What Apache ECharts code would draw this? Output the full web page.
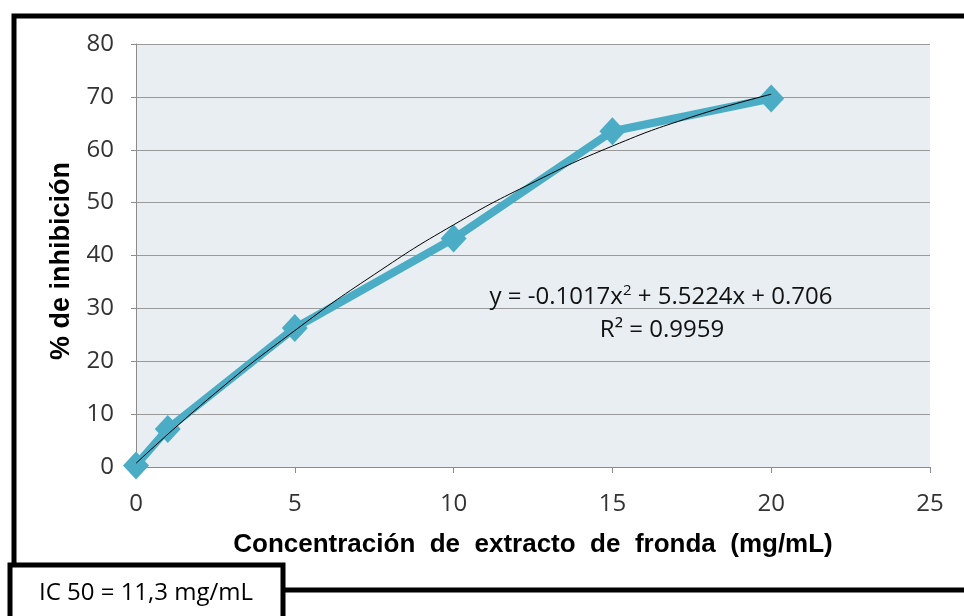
<!DOCTYPE html>
<html>
<head>
<meta charset="utf-8">
<script src="https://cdn.jsdelivr.net/npm/echarts@6/dist/echarts.min.js"></script>
<style>
  html, body { margin: 0; padding: 0; background: #fff; }
  #chart { width: 964px; height: 616px; }
</style>
</head>
<body>
<div id="chart"></div>
<script>
// datos medidos (concentración mg/mL vs % inhibición)
var concentracion = [0, 1, 5, 10, 15, 20];
var inhibicion = [0.3, 7.2, 26.3, 43.2, 63.5, 69.7];

// puntos de la línea de tendencia
var tendenciaX = [0, 2.5, 5, 7.5, 10, 12.5, 15, 17.5, 20];
var tendenciaY = [0.7, 14.0, 25.8, 36.4, 45.8, 53.8, 60.7, 66.2, 70.5];

var ecuacion = 'y = -0.1017x{sup|2} + 5.5224x + 0.706';
var r2 = 'R² = 0.9959';
var ic50 = 'IC 50 = 11,3 mg/mL';

var chart = echarts.init(document.getElementById('chart'));
var tickFont = '"Open Sans", "Liberation Sans", sans-serif';
var boldFont = '"Liberation Sans", Arial, sans-serif';

chart.setOption({
    animation: false,
    grid: { left: 136, right: 34, top: 44, bottom: 149, show: true, backgroundColor: '#E8EEF2', borderWidth: 0 },
    xAxis: {
        type: 'value', min: 0, max: 25, interval: 5,
        axisLine: { show: true, onZero: false, lineStyle: { color: '#8c8c8c', width: 1 } },
        axisTick: { show: true, length: 6, lineStyle: { color: '#8c8c8c' } },
        splitLine: { show: false },
        axisLabel: { color: '#333', fontSize: 24, fontFamily: tickFont, margin: 25 }
    },
    yAxis: {
        type: 'value', min: 0, max: 80, interval: 10,
        axisLine: { show: true, lineStyle: { color: '#8c8c8c', width: 1 } },
        axisTick: { show: true, length: 5, lineStyle: { color: '#8c8c8c' } },
        splitLine: { show: true, lineStyle: { color: '#9a9a9a', width: 1 } },
        axisLabel: { color: '#333', fontSize: 24, fontFamily: tickFont, margin: 22 }
    },
    series: [
        {
            type: 'line',
            data: concentracion.map(function (x, i) { return [x, inhibicion[i]]; }),
            lineStyle: { color: '#4BACC6', width: 8 },
            itemStyle: { color: '#4BACC6' },
            symbol: 'diamond',
            symbolSize: [26, 28],
            z: 2
        },
        {
            type: 'line',
            data: tendenciaX.map(function (x, i) { return [x, tendenciaY[i]]; }),
            smooth: true,
            showSymbol: false,
            lineStyle: { color: '#000', width: 1 },
            z: 3
        }
    ],
    graphic: [
        // marco exterior
        { type: 'rect', shape: { x: 14, y: 16, width: 1000, height: 574 }, style: { fill: 'none', stroke: '#000', lineWidth: 5 }, z: 10 },
        // títulos de ejes
        { type: 'text', x: 533, y: 545, style: { text: 'Concentración  de  extracto  de  fronda  (mg/mL)', font: 'bold 26px ' + boldFont, fill: '#000', align: 'center', verticalAlign: 'middle' }, z: 5 },
        { type: 'text', x: 62, y: 261, rotation: Math.PI / 2, style: { text: '% de inhibición', font: 'bold 27px ' + boldFont, fill: '#000', align: 'center', verticalAlign: 'middle' }, z: 5 },
        // ecuación de la tendencia
        { type: 'text', x: 661, y: 297, style: { text: ecuacion, align: 'center', verticalAlign: 'middle', font: '24px ' + tickFont, fill: '#111', rich: { sup: { fontSize: 15, verticalAlign: 'top', padding: [0, 0, 12, 0], fontFamily: tickFont, fill: '#111' } } }, z: 5 },
        { type: 'text', x: 662, y: 330, style: { text: r2, align: 'center', verticalAlign: 'middle', font: '24px ' + tickFont, fill: '#111' }, z: 5 },
        // recuadro IC50
        { type: 'rect', shape: { x: 10, y: 565, width: 273, height: 60 }, style: { fill: '#fff', stroke: '#000', lineWidth: 5 }, z: 11 },
        { type: 'text', x: 146, y: 593, style: { text: ic50, align: 'center', verticalAlign: 'middle', font: '24px ' + tickFont, fill: '#000' }, z: 12 }
    ]
});
</script>
</body>
</html>
